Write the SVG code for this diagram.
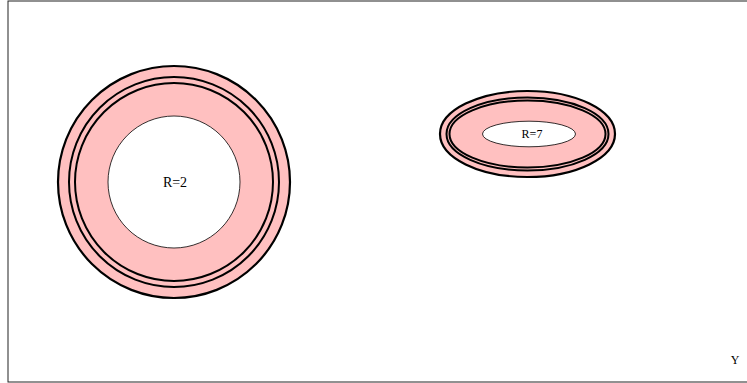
<svg xmlns="http://www.w3.org/2000/svg" width="747" height="383" viewBox="0 0 747 383">
<style>
.ring{fill:none;stroke:#000;stroke-width:2}
.outer{fill:#ffc0c0;stroke:#000;stroke-width:2.2}
.hole{fill:#fff;stroke:#000;stroke-width:0.8}
text{font-family:"Liberation Serif","Times New Roman",serif;fill:#000;text-anchor:middle}
</style>
<rect x="8" y="1" width="745" height="381" fill="#fff" stroke="#222" stroke-width="1"/>
<g id="node-r2">
<circle class="outer" cx="174" cy="182" r="116"/>
<circle class="ring" cx="174" cy="182" r="105"/>
<circle class="ring" cx="174" cy="182" r="99"/>
<circle class="hole" cx="174" cy="182" r="66"/>
<text x="175" y="187" font-size="14">R=2</text>
</g>
<g id="node-r7">
<ellipse class="outer" cx="527.5" cy="134" rx="87.5" ry="43"/>
<ellipse class="ring" cx="527.5" cy="134" rx="81" ry="36.5"/>
<ellipse class="ring" cx="527.5" cy="134" rx="78" ry="33.5"/>
<ellipse class="hole" cx="529" cy="134" rx="46.5" ry="12.8"/>
<text x="532" y="137.5" font-size="12">R=7</text>
</g>
<g id="connectors"></g>
<text x="735" y="364" font-size="12">Y</text>
</svg>
